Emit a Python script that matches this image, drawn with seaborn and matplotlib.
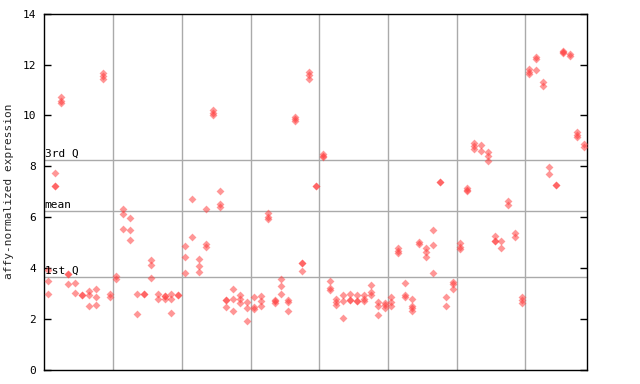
import matplotlib
matplotlib.use("Agg")
import matplotlib.pyplot as plt
import seaborn as sns
import pandas as pd

# expression values per sample (replicates)
sample_values = [
    [3.91, 3.48, 2.97],          # 0
    [7.75, 7.23, 7.23],          # 1
    [10.72, 10.55, 10.47],       # 2
    [3.74, 3.74, 3.36],          # 3
    [3.40, 3.01],                # 4
    [2.94, 2.94],                # 5
    [3.10, 2.92, 2.48],          # 6
    [3.15, 2.84, 2.52],          # 7
    [11.67, 11.55, 11.45],       # 8
    [2.97, 2.84],                # 9
    [3.68, 3.57],                # 10
    [6.31, 6.10, 5.52],          # 11
    [5.96, 5.49, 5.08],          # 12
    [2.96, 2.17],                # 13
    [2.96, 2.96],                # 14
    [4.31, 4.11, 3.59],          # 15
    [2.96, 2.78],                # 16
    [2.90, 2.90, 2.78],          # 17
    [2.96, 2.78, 2.21],          # 18
    [2.93, 2.93],                # 19
    [4.84, 4.41, 3.78],          # 20
    [6.69, 5.20],                # 21
    [4.33, 4.06, 3.82],          # 22
    [6.30, 4.95, 4.83],          # 23
    [10.20, 10.10, 10.00],       # 24
    [7.01, 6.51, 6.40],          # 25
    [2.75, 2.75, 2.45],          # 26
    [3.15, 2.76, 2.29],          # 27
    [2.92, 2.76, 2.63],          # 28
    [2.64, 2.41, 1.90],          # 29
    [2.86, 2.47, 2.39],          # 30
    [2.89, 2.69, 2.51],          # 31
    [6.17, 6.01, 5.91],          # 32
    [2.75, 2.68, 2.63],          # 33
    [3.55, 3.27, 2.96],          # 34
    [2.75, 2.65, 2.29],          # 35
    [9.93, 9.84, 9.76],          # 36
    [4.18, 4.18, 3.87],          # 37
    [11.71, 11.57, 11.44],       # 38
    [7.23, 7.23],                # 39
    [8.46, 8.40, 8.36],          # 40
    [3.48, 3.22, 3.13],          # 41
    [2.76, 2.65, 2.55],          # 42
    [2.92, 2.68, 2.01],          # 43
    [2.96, 2.73, 2.73],          # 44
    [2.92, 2.71, 2.71],          # 45
    [2.92, 2.78, 2.68],          # 46
    [3.31, 3.04, 2.94],          # 47
    [2.64, 2.51, 2.13],          # 48
    [2.63, 2.52, 2.42],          # 49
    [2.86, 2.67, 2.49],          # 50
    [4.77, 4.67, 4.57],          # 51
    [3.39, 2.93, 2.86],          # 52
    [2.76, 2.51, 2.41, 2.31],    # 53
    [5.03, 4.92],                # 54
    [4.77, 4.61, 4.41],          # 55
    [5.47, 4.88, 3.78],          # 56
    [7.37, 7.37],                # 57
    [2.84, 2.49],                # 58
    [3.45, 3.36, 3.18],          # 59
    [4.97, 4.83, 4.73],          # 60
    [7.14, 7.01, 7.08],          # 61
    [8.90, 8.79, 8.67],          # 62
    [8.82, 8.58],                # 63
    [8.54, 8.42, 8.19],          # 64
    [5.26, 5.05, 5.04],          # 65
    [5.06, 4.80],                # 66
    [6.64, 6.46],                # 67
    [5.39, 5.22],                # 68
    [2.86, 2.73, 2.60],          # 69
    [11.84, 11.71, 11.61],       # 70
    [12.30, 12.20, 11.80],       # 71
    [11.32, 11.17],              # 72
    [7.97, 7.71],                # 73
    [7.27, 7.27],                # 74
    [12.52, 12.47, 12.50],       # 75
    [12.43, 12.33],              # 76
    [9.34, 9.23, 9.13],          # 77
    [8.86, 8.76],                # 78
]

q1_value = 3.63
mean_value = 6.22
q3_value = 8.24
ref_labels = ["3rd Q", "mean", "1st Q"]
y_ticks = [0, 2, 4, 6, 8, 10, 12, 14]
y_label = "affy-normalized expression"

rows = []
for i, vals in enumerate(sample_values):
    for v in vals:
        rows.append({"sample": i, "value": v})
df = pd.DataFrame(rows)

sns.set_style("white")
plt.rcParams["font.family"] = ["DejaVu Sans Mono"]

fig = plt.figure(figsize=(6.4, 3.84), dpi=100)
ax = fig.add_axes([44.3 / 640, 1 - 369.5 / 384, 543 / 640, 355.8 / 384])

n = len(sample_values)
for gx in range(10, n, 10):
    ax.axvline(gx - 0.5, color="#aaaaaa", lw=1, zorder=1)
for yv in (q3_value, mean_value, q1_value):
    ax.axhline(yv, color="#aaaaaa", lw=1, zorder=1)

sns.scatterplot(data=df, x="sample", y="value", ax=ax, marker="D", s=16,
                color="#ff4040", alpha=0.55, linewidth=0, zorder=3, legend=False)

for lab, yv in zip(ref_labels, (q3_value, mean_value, q1_value)):
    ax.text(-0.45, yv + 0.05, lab, fontsize=8, va="bottom", ha="left",
            color="black", zorder=4)

ax.set_xlim(-0.5, n - 0.5)
ax.set_ylim(0, 14)
ax.set_xticks([])
ax.set_yticks(y_ticks)
ax.set_yticklabels([str(t) for t in y_ticks], fontsize=8)
ax.tick_params(axis="y", direction="in", length=5, width=1, left=True, right=True,
               labelleft=True, labelright=False, colors="black", pad=6)
ax.set_xlabel("")
ax.set_ylabel(y_label, fontsize=8, labelpad=6)
for sp in ax.spines.values():
    sp.set_visible(True)
    sp.set_color("black")
    sp.set_linewidth(1)

fig.savefig("out.png", dpi=100)
